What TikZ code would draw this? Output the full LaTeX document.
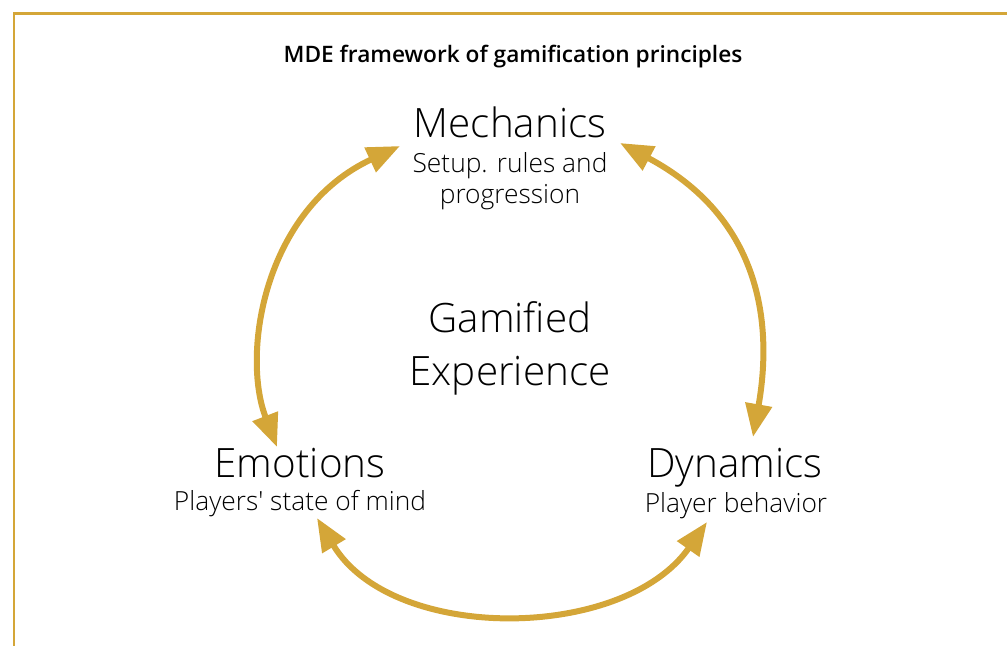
\documentclass[tikz,border=0pt]{standalone}
\usepackage{fontspec}
\setmainfont{Open Sans Light}
\newfontfamily\titlefont{Open Sans Semibold}
\usetikzlibrary{arrows.meta}

\definecolor{mdegold}{RGB}{212,166,56}
\def \arcWidth {0.12cm}

\begin{document}
\begin{tikzpicture}[x=0.02cm, y=0.02cm,
      bigword/.style={anchor=base, inner sep=0pt, font=\fontsize{23}{30}\selectfont},
      smallword/.style={anchor=base, inner sep=0pt, align=center, font=\fontsize{15}{17.6}\selectfont},
      cyclearc/.style={draw=mdegold, line width=\arcWidth, {Triangle[length=0.66cm, width=0.52cm]}-{Triangle[length=0.66cm, width=0.52cm]}}]
         \useasboundingbox (0, 0) rectangle (1007, -646);
         \draw[mdegold, line width=0.06cm] (1007, -13) -- (14, -13) -- (14, -646);

         \node[inner sep=0pt, font=\titlefont\fontsize{12.9}{15}\selectfont] (title) at (513, -57) {MDE framework of gamification principles};

         % Vier Begriffe (base = letzte Zeile)
         \node[bigword] (mech) at (510, -137) {Mechanics};
         \node[smallword] (mechsub) at (510, -203) {Setup. rules and\\progression};
         \node[bigword, align=center] (core) at (510, -385) {Gamified\\Experience};
         \node[bigword] (emo) at (300, -477) {Emotions};
         \node[smallword] (emosub) at (300, -510) {Players\textquotesingle{} state of mind};
         \node[bigword] (dyn) at (735, -477) {Dynamics};
         \node[smallword] (dynsub) at (736, -512) {Player behavior};

         % Pfeile im Kreis
         \draw[cyclearc] ([shift={(-110, -9)}]mech.base) .. controls +(205:150) and +(111:100) .. ([shift={(-23, 30)}]emo.base);
         \draw[cyclearc] ([shift={(110, -6)}]mech.base) .. controls +(-28:170) and +(80:100) .. ([shift={(18, 40)}]dyn.base);
         \draw[cyclearc] ([shift={(17, -41)}]emo.base) .. controls +(-59:146) and +(235:146) .. ([shift={(-28, -45)}]dyn.base);
\end{tikzpicture}
\end{document}
